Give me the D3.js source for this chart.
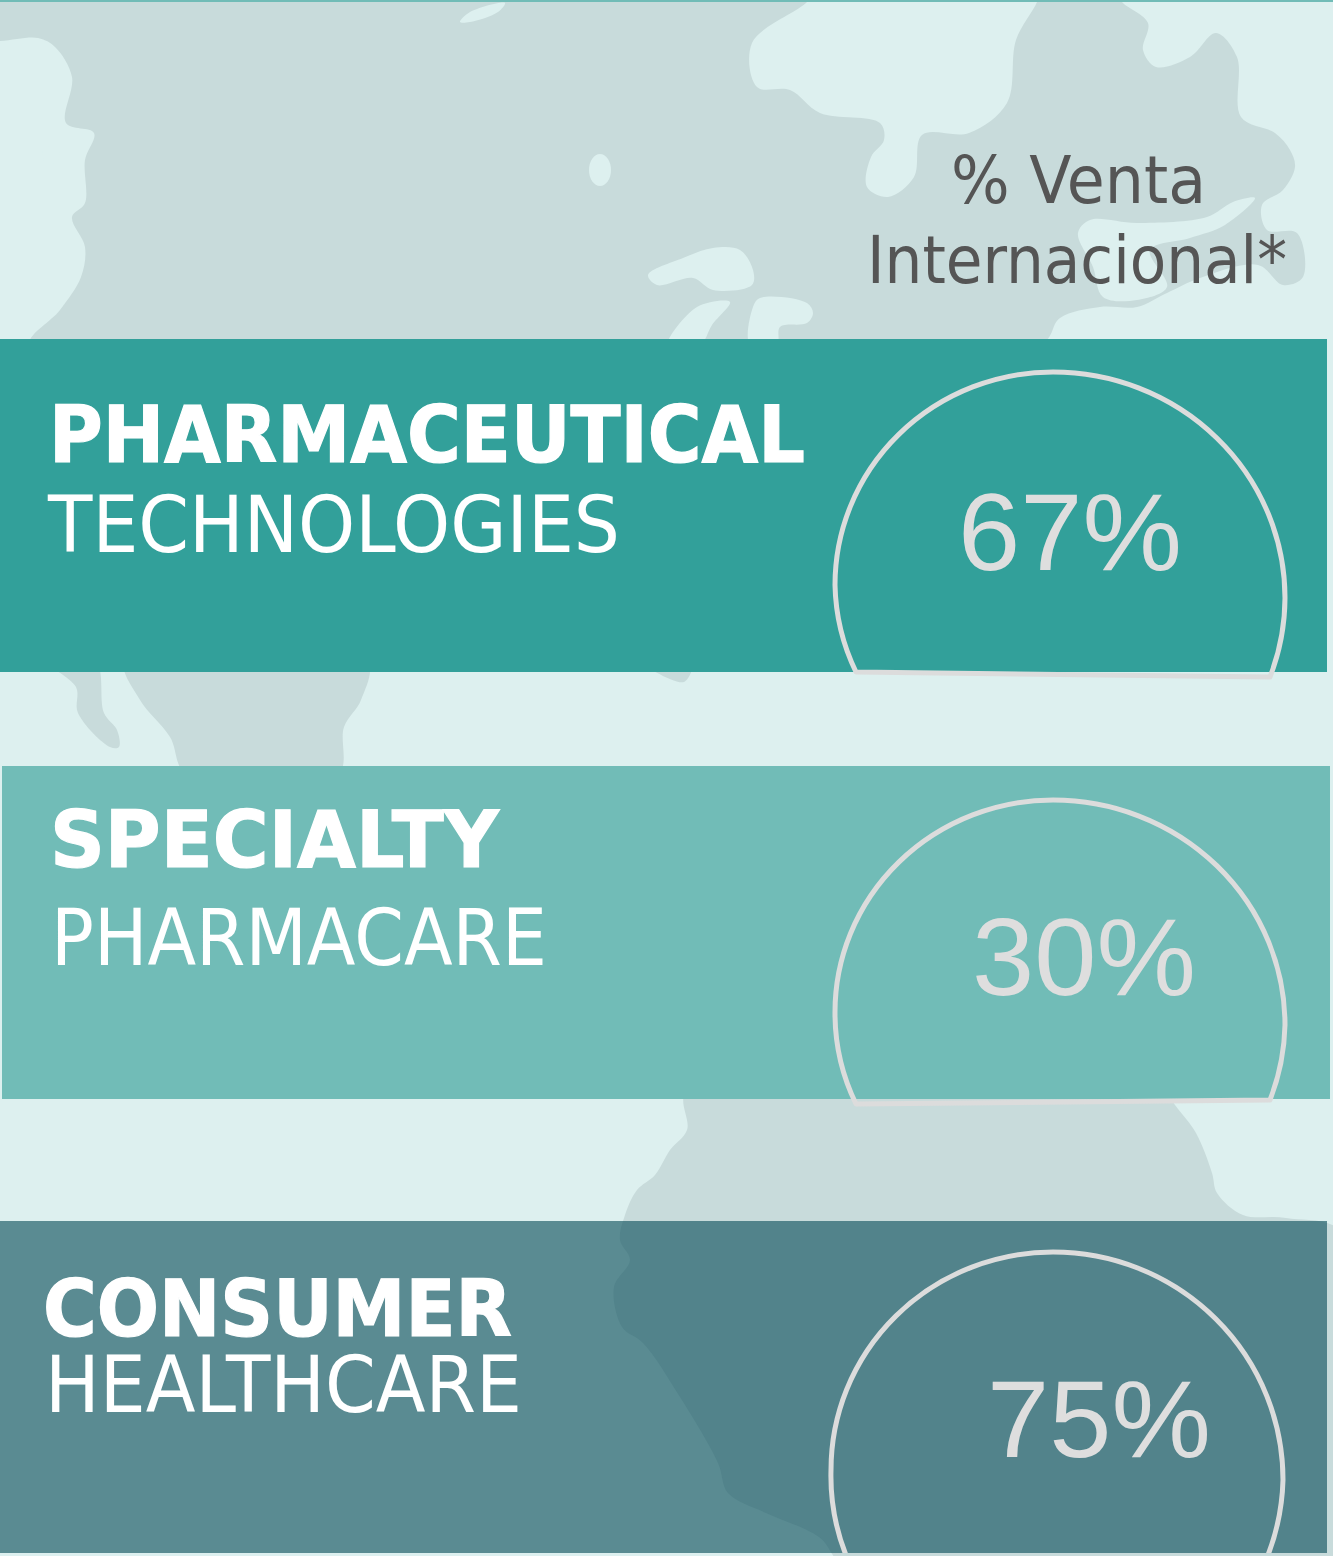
<!DOCTYPE html>
<html>
<head>
<meta charset="utf-8">
<style>
	html, body { margin: 0; padding: 0; background: #ddf0ef; }
	svg { display: block; }
	.head { font-family: "DejaVu Sans", sans-serif; fill: #555; font-size: 66px; }
	.name { font-family: "DejaVu Sans", sans-serif; fill: #fff; font-size: 78px; }
	.name-bold { stroke: #fff; stroke-width: 1.2px; }
	.value { font-family: "Liberation Sans", sans-serif; fill: #dedede; font-size: 109px; }
</style>
</head>
<body>
<svg></svg>
<script src="https://cdnjs.cloudflare.com/ajax/libs/d3/7.8.5/d3.min.js"></script>
<script>
// Data
var titles = ["PHARMACEUTICAL", "SPECIALTY", "CONSUMER"];
var subtitles = ["TECHNOLOGIES", "PHARMACARE", "HEALTHCARE"];
var intlShare = [67, 30, 75];
var header = ["% Venta", "Internacional*"];

var width = 1333, height = 1556;

// Colors
var bgColor = "#ddf0ef", landColor = "#c8dbdb", darkLand = "#52838b", ringColor = "#dcdcdc";
var panelColors = ["#32a09a", "#71bcb7", "#5a8b92"];

// Panels, gauges and labels, one entry per business unit
var panels = [
	{ x: 0, y: 339, w: 1327, h: 333 },
	{ x: 2, y: 766, w: 1328, h: 333 },
	{ x: 0, y: 1221, w: 1327, h: 332 }
];
// The gauges are a bit egg shaped, so each side gets its own radii
var rings = [
	{ from: [856, 672], left: [835, 585], top: [1053, 372], right: [1285, 598], to: [1270, 677] },
	{ from: [856, 1104], left: [835, 1012], top: [1053, 800], right: [1285, 1025], to: [1270, 1100] },
	{ from: [848, 1560], left: [831, 1470], top: [1053, 1252], right: [1283, 1480], to: [1266, 1560] }
];
var titlePos = [{ x: 49, y: 462, len: 756 }, { x: 50, y: 867, len: 449 }, { x: 43, y: 1336, len: 469 }];
var subPos = [{ x: 48, y: 552, len: 572 }, { x: 51, y: 965, len: 496 }, { x: 45, y: 1412, len: 477 }];
var valuePos = [{ x: 958, y: 570 }, { x: 972, y: 995 }, { x: 987, y: 1457 }];

// Background map, hand traced
var landNorth = [[-20, -10], [815, -10], [807, 2], [752, 43], [757, 87], [790, 90], [820, 113], [880, 123], [884, 140], [871, 157], [867, 187], [888, 197], [914, 177], [922, 135], [969, 133], [1007, 103], [1016, 40], [1037, 2], [1040, -10], [1115, -10], [1122, 2], [1148, 23], [1143, 50], [1156, 67], [1190, 57], [1216, 33], [1237, 57], [1241, 117], [1275, 133], [1290, 150], [1295, 167], [1283, 190], [1262, 205], [1267, 230], [1297, 233], [1303, 277], [1283, 285], [1258, 265], [1200, 278], [1167, 293], [1137, 307], [1100, 307], [1060, 318], [1040, 345], [30, 345], [60, 310], [81, 277], [85, 247], [72, 217], [85, 203], [85, 160], [94, 133], [66, 123], [72, 77], [55, 47], [38, 38], [-20, 38]];
var landBaja = [[45, 660], [76, 687], [78, 713], [110, 747], [119, 747], [117, 730], [104, 713], [95, 660]];
var landMexico = [[125, 660], [140, 700], [170, 737], [187, 775], [338, 775], [344, 727], [361, 700], [367, 660]];
var landCuba = [[640, 660], [684, 682], [692, 660]];
var landSouth = [[687, 1090], [687, 1130], [670, 1150], [655, 1175], [637, 1190], [625, 1215], [620, 1240], [630, 1260], [614, 1287], [622, 1327], [643, 1343], [680, 1397], [718, 1463], [728, 1493], [766, 1513], [819, 1537], [850, 1570], [1345, 1570], [1345, 1235], [1286, 1218], [1243, 1215], [1217, 1193], [1212, 1173], [1196, 1133], [1175, 1105], [1165, 1090]];
var waterPatches = [
	[[460, 22], [470, 12], [505, 3], [498, 12], [470, 22]],
	[[648, 275], [683, 258], [713, 248], [740, 250], [753, 270], [752, 285], [713, 290], [693, 278], [657, 285]],
	[[668, 345], [697, 307], [730, 302], [712, 325], [700, 345]],
	[[750, 345], [753, 307], [760, 298], [807, 303], [813, 313], [807, 323], [780, 327], [777, 345]],
	[[1255, 198], [1233, 202], [1207, 217], [1137, 223], [1090, 220], [1078, 233], [1093, 267], [1103, 297], [1137, 300], [1167, 287], [1150, 250], [1190, 238], [1225, 225]]
];
var waterSpots = [{ cx: 600, cy: 170, rx: 11, ry: 16 }, { cx: 51, cy: 155, rx: 9, ry: 9 }];

var svg = d3.select("svg").attr("width", width).attr("height", height);
var line = d3.line().curve(d3.curveCatmullRomClosed.alpha(0.5));

svg.append("rect").attr("width", width).attr("height", height).attr("fill", bgColor);

// Map
svg.selectAll("path.land")
	.data([landNorth, landBaja, landMexico, landCuba, landSouth])
	.enter().append("path")
	.attr("class", "land")
	.attr("d", line)
	.attr("fill", landColor);

svg.selectAll("path.water")
	.data(waterPatches)
	.enter().append("path")
	.attr("class", "water")
	.attr("d", line)
	.attr("fill", bgColor);

svg.selectAll("ellipse.water")
	.data(waterSpots)
	.enter().append("ellipse")
	.attr("class", "water")
	.attr("cx", (d) => d.cx)
	.attr("cy", (d) => d.cy)
	.attr("rx", (d) => d.rx)
	.attr("ry", (d) => d.ry)
	.attr("fill", bgColor);

svg.append("rect").attr("width", width).attr("height", 2).attr("fill", panelColors[1]);

// Bands
svg.selectAll("rect.panel")
	.data(panels)
	.enter().append("rect")
	.attr("class", "panel")
	.attr("x", (d) => d.x)
	.attr("y", (d) => d.y)
	.attr("width", (d) => d.w)
	.attr("height", (d) => d.h)
	.attr("fill", (d, i) => panelColors[i]);

// The last band lets the map show through, darker
var defs = svg.append("defs");
defs.append("clipPath").attr("id", "lastPanel")
	.append("rect")
	.attr("x", panels[2].x)
	.attr("y", panels[2].y)
	.attr("width", panels[2].w)
	.attr("height", panels[2].h);

svg.append("path")
	.attr("clip-path", "url(#lastPanel)")
	.attr("d", line(landSouth))
	.attr("fill", darkLand);

// Header
svg.selectAll("text.head")
	.data(header)
	.enter().append("text")
	.attr("class", "head")
	.attr("x", (d, i) => i == 0 ? 951 : 867)
	.attr("y", (d, i) => i == 0 ? 203 : 283)
	.attr("textLength", (d, i) => i == 0 ? 255 : 420)
	.attr("lengthAdjust", "spacingAndGlyphs")
	.text((d) => d);

// Gauges, the third one runs off the bottom of its band
function ringPath(d) {
	var lx = d.top[0] - d.left[0], ly = d.left[1] - d.top[1];
	var rx = d.right[0] - d.top[0], ry = d.right[1] - d.top[1];
	return "M" + d.from
		+ "A" + lx + "," + ly + " 0 0 1 " + d.left
		+ "A" + lx + "," + ly + " 0 0 1 " + d.top
		+ "A" + rx + "," + ry + " 0 0 1 " + d.right
		+ "A" + rx + "," + ry + " 0 0 1 " + d.to + "Z";
}

svg.selectAll("path.ring")
	.data(rings)
	.enter().append("path")
	.attr("class", "ring")
	.attr("d", ringPath)
	.attr("fill", "none")
	.attr("stroke", ringColor)
	.attr("stroke-width", 5)
	.attr("stroke-linejoin", "round")
	.attr("clip-path", (d, i) => i == 2 ? "url(#lastPanel)" : null);

// Labels
function addLabels(names, pos, weight) {
	svg.selectAll("text.name-" + weight)
		.data(names)
		.enter().append("text")
		.attr("class", "name name-" + weight)
		.attr("font-weight", weight)
		.attr("x", (d, i) => pos[i].x)
		.attr("y", (d, i) => pos[i].y)
		.attr("textLength", (d, i) => pos[i].len)
		.attr("lengthAdjust", "spacingAndGlyphs")
		.text((d) => d);
}
addLabels(titles, titlePos, "bold");
addLabels(subtitles, subPos, "normal");

var pct = d3.format(".0%");
svg.selectAll("text.value")
	.data(intlShare)
	.enter().append("text")
	.attr("class", "value")
	.attr("x", (d, i) => valuePos[i].x)
	.attr("y", (d, i) => valuePos[i].y)
	.attr("textLength", 224)
	.attr("lengthAdjust", "spacingAndGlyphs")
	.text((d) => pct(d / 100));
</script>
</body>
</html>
